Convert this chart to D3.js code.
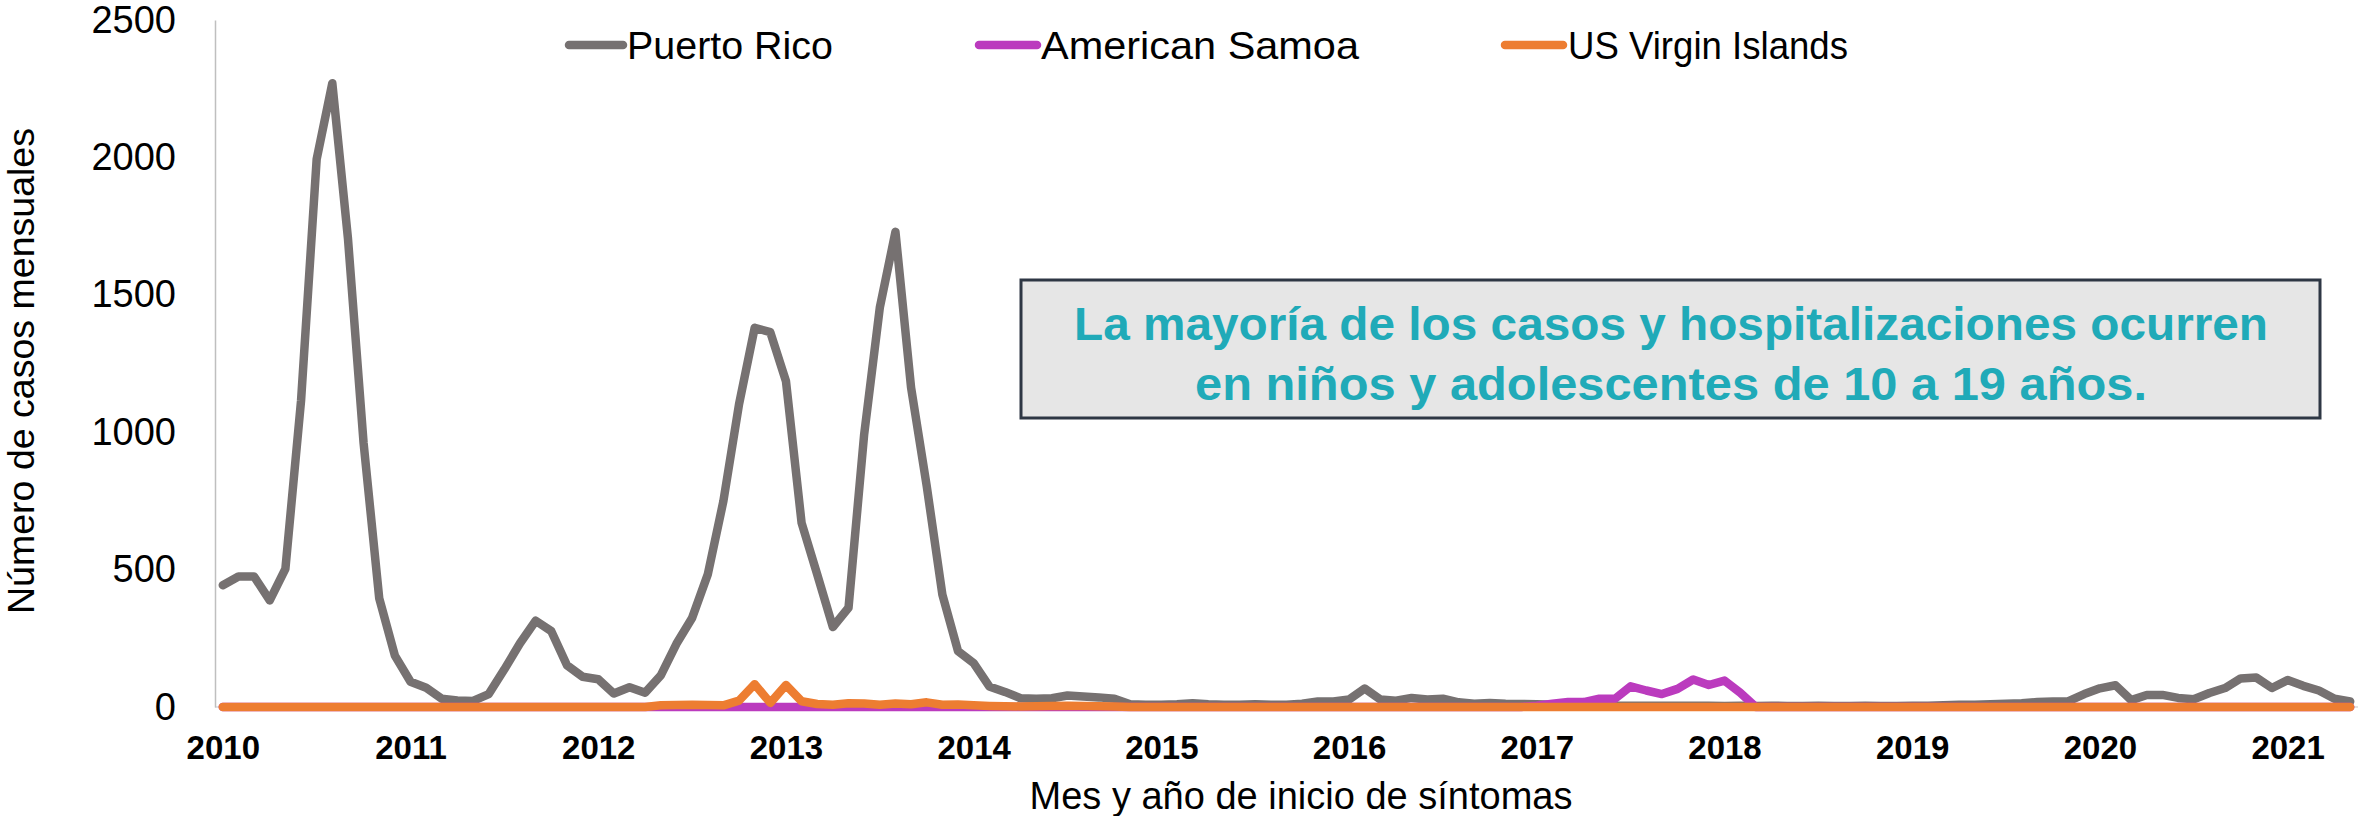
<!DOCTYPE html>
<html>
<head>
<meta charset="utf-8">
<script src="https://cdn.jsdelivr.net/npm/d3@7"></script>
<style>
  html, body { margin: 0; padding: 0; background: #ffffff; }
  svg { display: block; }
  text { font-family: "Liberation Sans", Arial, sans-serif; }
</style>
</head>
<body>
<svg id="chart" width="2359" height="816"></svg>
<script>
// ---------------- DATA ----------------
const seriesNames = ["Puerto Rico", "American Samoa", "US Virgin Islands"];
const seriesColors = ["#767171", "#BB3BBE", "#ED7D31"];
const yearTicks = ["2010","2011","2012","2013","2014","2015","2016","2017","2018","2019","2020","2021"];
const yTickValues = [0, 500, 1000, 1500, 2000, 2500];

// Monthly cases, Jan 2010 – May 2021 (137 months)
const puertoRico = [
  443, 475, 475, 388, 503, 1114, 1994, 2270, 1705, 960, 395, 187,
  92, 70, 30, 24, 22, 47, 137, 232, 314, 276, 152, 110,
  101, 49, 72, 52, 115, 230, 324, 482, 749, 1101, 1380, 1364,
  1186, 670, 482, 291, 361, 992, 1453, 1729, 1162, 804, 409, 203,
  160, 75, 55, 32, 30, 32, 42, 38, 35, 30, 10, 8,
  8, 10, 14, 10, 8, 8, 10, 8, 8, 12, 20, 20,
  27, 67, 27, 23, 33, 27, 30, 17, 12, 15, 12, 11,
  10, 8, 6, 6, 5, 5, 5, 5, 5, 5, 5, 5,
  4, 5, 4, 5, 4, 4, 5, 4, 4, 5, 4, 4,
  5, 5, 6, 8, 8, 10, 12, 14, 18, 20, 21, 47,
  68, 79, 25, 44, 44, 33, 28, 51, 69, 104, 107, 69,
  98, 77, 60, 30, 20
];
const americanSamoa = [
  0, 0, 0, 0, 0, 0, 0, 0, 0, 0, 0, 0,
  0, 0, 0, 0, 0, 0, 0, 0, 0, 0, 0, 0,
  0, 0, 0, 0, 0, 0, 0, 0, 0, 0, 0, 0,
  0, 0, 0, 0, 0, 0, 0, 0, 0, 0, 0, 0,
  0, 0, 0, 0, 0, 0, 0, 0, 0, 0, 0, 0,
  0, 0, 0, 0, 0, 0, 0, 0, 0, 0, 0, 0,
  0, 0, 0, 0, 0, 0, 0, 0, 0, 0, 0, 0,
  5, 12, 18, 18, 30, 30, 75, 60, 47, 66, 100, 80,
  96, 52, 0, 0, 0, 0, 0, 0, 0, 0, 0, 0,
  0, 0, 0, 0, 0, 0, 0, 0, 0, 0, 0, 0,
  0, 0, 0, 0, 0, 0, 0, 0, 0, 0, 0, 0,
  0, 0, 0, 0, 0
];
const usVirginIslands = [
  0, 0, 0, 0, 0, 0, 0, 0, 0, 0, 0, 0,
  0, 0, 0, 0, 0, 0, 0, 0, 0, 0, 0, 0,
  0, 0, 0, 0, 6, 7, 8, 7, 6, 23, 83, 15,
  80, 21, 11, 8, 14, 13, 8, 13, 10, 17, 8, 9,
  6, 4, 3, 2, 3, 4, 5, 4, 3, 2, 0, 0,
  0, 0, 0, 0, 0, 0, 0, 0, 0, 0, 0, 0,
  0, 0, 0, 0, 0, 0, 0, 0, 0, 0, 0, 0,
  0, 0, 0, 0, 0, 0, 0, 0, 0, 0, 0, 0,
  0, 0, 0, 0, 0, 0, 0, 0, 0, 0, 0, 0,
  0, 0, 0, 0, 0, 0, 0, 0, 0, 0, 0, 0,
  0, 0, 0, 0, 0, 0, 0, 0, 0, 0, 0, 0,
  0, 0, 0, 0, 0
];
const yAxisTitle = "Número de casos mensuales";
const xAxisTitle = "Mes y año de inicio de síntomas";
const noteLines = ["La mayoría de los casos y hospitalizaciones ocurren",
                   "en niños y adolescentes de 10 a 19 años."];

// ---------------- LAYOUT ----------------
const svg = d3.select("#chart");
const plot = { left: 215, right: 2358, top: 20, bottom: 707 };

const months = d3.range(puertoRico.length);
const x = d3.scalePoint().domain(months).range([plot.left, plot.right]).padding(0.5);
const y = d3.scaleLinear().domain([0, 2500]).range([plot.bottom, plot.top]);

// x baseline (light)
svg.append("line")
  .attr("x1", plot.left).attr("x2", plot.right)
  .attr("y1", plot.bottom).attr("y2", plot.bottom)
  .attr("stroke", "#D9D9D9").attr("stroke-width", 1.5);

// y axis
const yAxis = d3.axisLeft(y).tickValues(yTickValues).tickSize(0).tickPadding(39).tickFormat(d3.format("d"));
const gy = svg.append("g").attr("transform", `translate(${plot.left},0)`).call(yAxis);
gy.select(".domain").attr("stroke", "#BFBFBF").attr("stroke-width", 1.5);
gy.selectAll("text").attr("font-size", 38).attr("fill", "#000")
  .attr("font-family", "Liberation Sans, Arial, sans-serif");

// x axis
const yearIdx = yearTicks.map((_, k) => k * 12);
const xAxis = d3.axisBottom(x).tickValues(yearIdx).tickSize(0).tickPadding(29)
  .tickFormat(i => yearTicks[i / 12]);
const gx = svg.append("g").attr("transform", `translate(0,${plot.bottom})`).call(xAxis);
gx.select(".domain").remove();
gx.selectAll("text").attr("font-size", 33).attr("font-weight", "bold").attr("fill", "#000")
  .attr("font-family", "Liberation Sans, Arial, sans-serif");

// axis titles
svg.append("text")
  .attr("transform", `translate(21,371) rotate(-90)`)
  .attr("text-anchor", "middle").attr("dy", "0.35em")
  .attr("font-size", 37).attr("fill", "#000")
  .attr("textLength", 486).attr("lengthAdjust", "spacingAndGlyphs")
  .text(yAxisTitle);
svg.append("text")
  .attr("x", 1301).attr("y", 809)
  .attr("text-anchor", "middle")
  .attr("font-size", 38).attr("fill", "#000")
  .text(xAxisTitle);

// lines
const line = d3.line().x((d, i) => x(i)).y(d => y(d));
const allSeries = [puertoRico, americanSamoa, usVirginIslands];
allSeries.forEach((s, k) => {
  svg.append("path")
    .datum(s)
    .attr("d", line)
    .attr("fill", "none")
    .attr("stroke", seriesColors[k])
    .attr("stroke-width", 8.5)
    .attr("stroke-linejoin", "round")
    .attr("stroke-linecap", "round");
});

// legend
const legendItems = [
  { x1: 569, x2: 623, tx: 627, w: 206 },
  { x1: 979, x2: 1037, tx: 1041, w: 318 },
  { x1: 1505, x2: 1563, tx: 1568, w: 280 }
];
const lg = svg.append("g");
legendItems.forEach((it, k) => {
  lg.append("line").attr("x1", it.x1).attr("x2", it.x2).attr("y1", 45).attr("y2", 45)
    .attr("stroke", seriesColors[k]).attr("stroke-width", 8.5).attr("stroke-linecap", "round");
  lg.append("text").attr("x", it.tx).attr("y", 45).attr("dy", "0.35em")
    .attr("font-size", 39).attr("fill", "#000")
    .attr("textLength", it.w).attr("lengthAdjust", "spacingAndGlyphs")
    .text(seriesNames[k]);
});

// annotation box
svg.append("rect")
  .attr("x", 1021).attr("y", 280).attr("width", 1299).attr("height", 138)
  .attr("fill", "#E6E6E6").attr("stroke", "#2E3744").attr("stroke-width", 3);
const noteW = [1194, 952];
const noteY = [340, 400];
noteLines.forEach((t, k) => {
  svg.append("text")
    .attr("x", 1671).attr("y", noteY[k])
    .attr("text-anchor", "middle")
    .attr("font-size", 47).attr("font-weight", "bold")
    .attr("fill", "#20AAB8")
    .attr("textLength", noteW[k]).attr("lengthAdjust", "spacingAndGlyphs")
    .text(t);
});
</script>
</body>
</html>
